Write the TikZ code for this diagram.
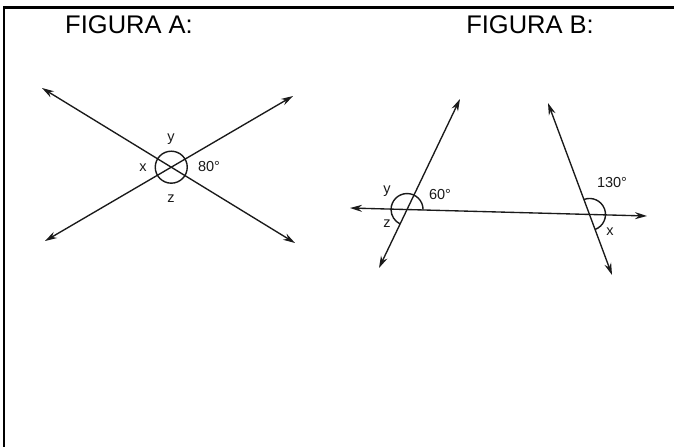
\documentclass[tikz,border=0pt]{standalone}
\usepackage{fontspec}
\setmainfont{Liberation Sans}
\usetikzlibrary{arrows.meta}
\definecolor{ink}{HTML}{1A1A1A}
\begin{document}
\begin{tikzpicture}[x=1pt,y=-1pt,
  ray/.style={ink,line width=1.35pt,{Stealth[length=12pt,width=7pt]}-{Stealth[length=12pt,width=7pt]}},
  arcline/.style={ink,line width=1.4pt},
  title/.style={inner sep=0pt,font=\fontsize{25.5}{28}\selectfont},
  lbl/.style={inner sep=0pt,ink,font=\fontsize{14.5}{16}\selectfont}]
\useasboundingbox (0,0) rectangle (674,447);
\fill[white] (0,0) rectangle (674,447);
% frame
\coordinate (fTL) at (4,7.5);
\coordinate (fTR) at (674,7.5);
\coordinate (fBL) at (4,447);
\draw[line width=2.2pt] (fTR) -- (fTL) -- (fBL);
% titles
\node[title] (tA) at (129,25) {FIGURA A:};
\node[title] (tB) at (530,25) {FIGURA B:};
% ---- Figure A
\coordinate (a1) at (42,88);
\coordinate (a2) at (295,243);
\coordinate (b1) at (45,241);
\coordinate (b2) at (293,96);
\coordinate (oA) at (intersection of a1--a2 and b1--b2);
\draw[ray] (a1) -- (a2);
\draw[ray] (b1) -- (b2);
\draw[arcline] (oA) circle[radius=16];
\node[lbl] (yA) at (171,139) {y};
\node[lbl] (xA) at (143,168) {x};
\node[lbl] (zA) at (171,199) {z};
\node[lbl] (ang80) at (209,167) {80°};
% ---- Figure B
\coordinate (h1) at (350,208);
\coordinate (h2) at (647,216);
\coordinate (l1) at (460,99);
\coordinate (l2) at (379,268);
\coordinate (r1) at (548,103);
\coordinate (r2) at (612,275);
\coordinate (oL) at (intersection of h1--h2 and l1--l2);
\coordinate (oR) at (intersection of h1--h2 and r1--r2);
\draw[ray] (h1) -- (h2);
\draw[ray] (l1) -- (l2);
\draw[ray] (r1) -- (r2);
\draw[arcline] (oL) ++(0:16) arc[start angle=0,end angle=-245.4,radius=16];
\draw[arcline] (oR) ++(-110.4:16) arc[start angle=-110.4,end angle=69.6,radius=16];
\node[lbl] (yB) at (387,191) {y};
\node[lbl] (zB) at (387,224) {z};
\node[lbl] (ang60) at (440,195) {60°};
\node[lbl] (ang130) at (612,183) {130°};
\node[lbl] (xB) at (610,232) {x};
\end{tikzpicture}
\end{document}
